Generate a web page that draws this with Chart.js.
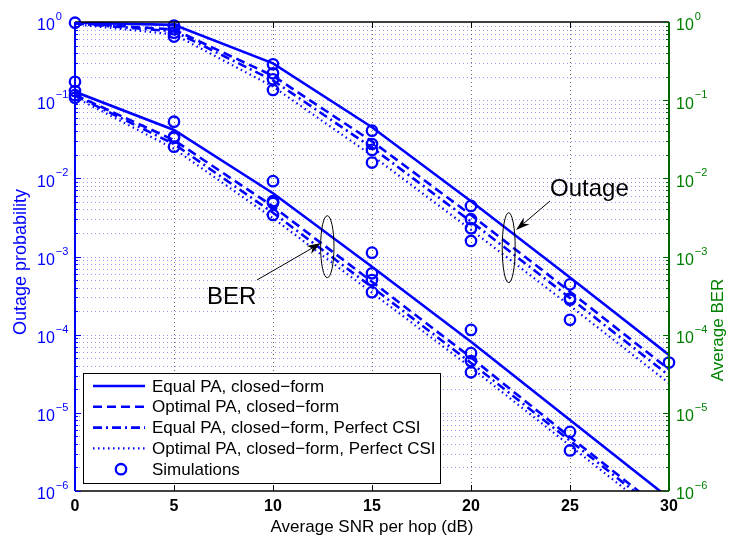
<!DOCTYPE html>
<html>
<head>
<meta charset="utf-8">
<script src="https://cdn.jsdelivr.net/npm/chart.js@4"></script>
<style>
  html, body { margin: 0; padding: 0; background: #fff; }
  #wrap { width: 731px; height: 540px; }
</style>
</head>
<body>
<div id="wrap"><canvas id="berChart" width="731" height="540"></canvas></div>
<script>
// SNR points (dB) for closed-form curves and simulations
const snr = [0, 5, 10, 15, 20, 25, 30];
const xTicks = [0, 5, 10, 15, 20, 25, 30];
const decades = [-6, -5, -4, -3, -2, -1, 0];

// Outage probability, closed-form
const outEqual      = [0.98, 0.92, 0.296, 0.045, 0.0051, 5.4e-4, 5.5e-5];
const outOptimal    = [0.97, 0.80, 0.205, 0.0297, 0.0034, 3.55e-4, 3.6e-5];
const outEqualCsi   = [0.96, 0.76, 0.179, 0.0247, 0.0028, 2.95e-4, 3.0e-5];
const outOptimalCsi = [0.935, 0.695, 0.149, 0.0196, 0.0022, 2.34e-4, 2.4e-5];

// Average BER, closed-form
const berEqual      = [0.128, 0.0416, 0.00645, 7.4e-4, 8.1e-5, 8.1e-6, 8.1e-7];
const berOptimal    = [0.117, 0.0308, 0.00437, 4.75e-4, 5.1e-5, 4.9e-6, 4.9e-7];
const berEqualCsi   = [0.1145, 0.0275, 0.00363, 4.05e-4, 4.35e-5, 4.4e-6, 4.4e-7];
const berOptimalCsi = [0.109, 0.0239, 0.00309, 3.44e-4, 3.8e-5, 3.8e-6, 3.8e-7];

// Simulation markers, one list per SNR point
const simSnr = [0, 5, 10, 15, 20, 25, 30];
const outSim = [
  [0.98],
  [0.90, 0.81, 0.73, 0.65],
  [0.288, 0.221, 0.185, 0.135],
  [0.0407, 0.0275, 0.0231, 0.0159],
  [0.00444, 0.0030, 0.0023, 0.00158],
  [4.4e-4, 2.9e-4, 2.8e-4, 1.55e-4],
  [4.4e-5]
];
const berSim = [
  [0.172, 0.131, 0.116, 0.107],
  [0.053, 0.034, 0.033, 0.0254],
  [0.0092, 0.0051, 0.00484, 0.0034],
  [0.00112, 6.1e-4, 5.0e-4, 3.5e-4],
  [1.15e-4, 5.8e-5, 4.6e-5, 3.3e-5],
  [5.7e-6, 3.3e-6],
  []
];

const legendLabels = [
  'Equal PA, closed\u2212form',
  'Optimal PA, closed\u2212form',
  'Equal PA, closed\u2212form, Perfect CSI',
  'Optimal PA, closed\u2212form, Perfect CSI',
  'Simulations'
];

const BLUE = '#0000ff';
const GREEN = '#008000';
const FONT = '"Liberation Sans", Arial, Helvetica, sans-serif';
const DASHES = [[], [9, 5], [9, 4, 2, 4], [1.5, 3.5]];
const WIDTHS = [2.6, 2.6, 2.6, 2.2];

// log ticks 1..9 x 10^k for grid and minor ticks
const logTicks = [];
decades.forEach(function (e) {
  if (e === 0) { logTicks.push(1); return; }
  for (let m = 1; m <= 9; m++) logTicks.push(m * Math.pow(10, e));
});

function curve(values, style) {
  return {
    data: snr.map((x, i) => ({ x: x, y: values[i] })),
    borderColor: BLUE,
    borderWidth: WIDTHS[style],
    borderDash: DASHES[style],
    pointRadius: 0,
    fill: false,
    tension: 0
  };
}

function simPoints() {
  const pts = [];
  [outSim, berSim].forEach(function (set) {
    set.forEach(function (vals, i) {
      vals.forEach(v => pts.push({ x: simSnr[i], y: v }));
    });
  });
  return pts;
}

const datasets = [
  curve(outEqual, 0), curve(outOptimal, 1),
  curve(outEqualCsi, 2), curve(outOptimalCsi, 3),
  curve(berEqual, 0), curve(berOptimal, 1),
  curve(berEqualCsi, 2), curve(berOptimalCsi, 3),
  {
    data: simPoints(),
    showLine: false,
    borderColor: BLUE,
    backgroundColor: 'rgba(0,0,0,0)',
    pointStyle: 'circle',
    pointRadius: 5.2,
    pointBorderWidth: 2.3,
    clip: false
  }
];

function supLabel(ctx, x, y, exp, color) {
  ctx.fillStyle = color;
  ctx.textAlign = 'left';
  ctx.textBaseline = 'middle';
  ctx.font = '16px ' + FONT;
  ctx.fillText('10', x, y + 4);
  const w = ctx.measureText('10').width;
  ctx.font = '11px ' + FONT;
  ctx.fillText(exp === 0 ? '0' : '\u2212' + Math.abs(exp), x + w + 1, y - 5);
}

function arrow(ctx, x1, y1, x2, y2) {
  const a = Math.atan2(y2 - y1, x2 - x1);
  const len = 14, hw = 4.5;
  ctx.beginPath();
  ctx.moveTo(x1, y1);
  ctx.lineTo(x2 - Math.cos(a) * len * 0.7, y2 - Math.sin(a) * len * 0.7);
  ctx.stroke();
  ctx.beginPath();
  ctx.moveTo(x2, y2);
  ctx.lineTo(x2 - Math.cos(a) * len - Math.sin(a) * hw, y2 - Math.sin(a) * len + Math.cos(a) * hw);
  ctx.lineTo(x2 - Math.cos(a) * len * 0.7, y2 - Math.sin(a) * len * 0.7);
  ctx.lineTo(x2 - Math.cos(a) * len + Math.sin(a) * hw, y2 - Math.sin(a) * len - Math.cos(a) * hw);
  ctx.closePath();
  ctx.fill();
}

const matlabLook = {
  id: 'matlabLook',
  beforeDatasetsDraw(chart) {
    const ctx = chart.ctx, a = chart.chartArea;
    const xs = chart.scales.x, ys = chart.scales.y;
    ctx.save();
    ctx.lineWidth = 1;
    ctx.setLineDash([1, 3]);
    ctx.strokeStyle = 'rgba(70,70,255,0.55)';
    logTicks.forEach(function (v) {
      const y = Math.round(ys.getPixelForValue(v)) + 0.5;
      if (y <= a.top + 1 || y >= a.bottom - 1) return;
      ctx.beginPath(); ctx.moveTo(a.left, y); ctx.lineTo(a.right, y); ctx.stroke();
    });
    ctx.strokeStyle = 'rgba(60,60,60,0.75)';
    xTicks.forEach(function (v) {
      const x = Math.round(xs.getPixelForValue(v)) + 0.5;
      if (x <= a.left + 1 || x >= a.right - 1) return;
      ctx.beginPath(); ctx.moveTo(x, a.top); ctx.lineTo(x, a.bottom); ctx.stroke();
    });
    ctx.restore();
  },
  afterDatasetsDraw(chart) {
    const ctx = chart.ctx, a = chart.chartArea;
    const xs = chart.scales.x, ys = chart.scales.y, ys2 = chart.scales.y2;
    ctx.save();
    ctx.setLineDash([]);

    // box lines
    ctx.lineWidth = 1.5;
    ctx.strokeStyle = '#000';
    ctx.beginPath(); ctx.moveTo(a.left, a.top); ctx.lineTo(a.right, a.top); ctx.stroke();
    ctx.beginPath(); ctx.moveTo(a.left, a.bottom); ctx.lineTo(a.right, a.bottom); ctx.stroke();
    xTicks.forEach(function (v) {
      const x = Math.round(xs.getPixelForValue(v)) + 0.5;
      ctx.lineWidth = 1;
      ctx.beginPath(); ctx.moveTo(x, a.bottom); ctx.lineTo(x, a.bottom - 6); ctx.stroke();
      ctx.beginPath(); ctx.moveTo(x, a.top); ctx.lineTo(x, a.top + 6); ctx.stroke();
    });
    ctx.lineWidth = 2;
    ctx.strokeStyle = BLUE;
    ctx.beginPath(); ctx.moveTo(a.left, a.top); ctx.lineTo(a.left, a.bottom); ctx.stroke();
    ctx.strokeStyle = '#006400';
    ctx.beginPath(); ctx.moveTo(a.right, a.top); ctx.lineTo(a.right, a.bottom); ctx.stroke();
    ctx.lineWidth = 1;
    logTicks.forEach(function (v) {
      const major = decades.some(e => Math.abs(v - Math.pow(10, e)) < v * 1e-6);
      const len = major ? 6 : 3;
      const y = Math.round(ys.getPixelForValue(v)) + 0.5;
      ctx.strokeStyle = BLUE;
      ctx.beginPath(); ctx.moveTo(a.left, y); ctx.lineTo(a.left + len, y); ctx.stroke();
      const y2 = Math.round(ys2.getPixelForValue(v)) + 0.5;
      ctx.strokeStyle = '#006400';
      ctx.beginPath(); ctx.moveTo(a.right, y2); ctx.lineTo(a.right - len, y2); ctx.stroke();
    });

    // tick labels
    ctx.fillStyle = '#000';
    ctx.font = 'bold 16px ' + FONT;
    ctx.textAlign = 'center';
    ctx.textBaseline = 'middle';
    xTicks.forEach(v => ctx.fillText(String(v), xs.getPixelForValue(v), a.bottom + 16));
    decades.forEach(function (e) {
      supLabel(ctx, 37, ys.getPixelForValue(Math.pow(10, e)), e, BLUE);
      supLabel(ctx, a.right + 7, ys2.getPixelForValue(Math.pow(10, e)), e, GREEN);
    });

    // axis titles
    ctx.font = '17px ' + FONT;
    ctx.fillStyle = '#000';
    ctx.textAlign = 'center';
    ctx.fillText('Average SNR per hop (dB)', (a.left + a.right) / 2, a.bottom + 36);
    ctx.save();
    ctx.font = '18px ' + FONT;
    ctx.translate(21, 262); ctx.rotate(-Math.PI / 2);
    ctx.fillStyle = BLUE; ctx.fillText('Outage probability', 0, 0);
    ctx.restore();
    ctx.save();
    ctx.translate(718, 330); ctx.rotate(-Math.PI / 2);
    ctx.fillStyle = GREEN; ctx.fillText('Average BER', 0, 0);
    ctx.restore();

    // annotations
    ctx.strokeStyle = '#000';
    ctx.fillStyle = '#000';
    ctx.lineWidth = 1;
    ctx.beginPath(); ctx.ellipse(508.7, 247.7, 6.5, 35, 0, 0, Math.PI * 2); ctx.stroke();
    ctx.beginPath(); ctx.ellipse(327.3, 246.7, 6.7, 31, 0, 0, Math.PI * 2); ctx.stroke();
    arrow(ctx, 550, 201, 516, 230);
    arrow(ctx, 257, 280, 321, 243);
    ctx.font = '24px ' + FONT;
    ctx.textAlign = 'left';
    ctx.textBaseline = 'alphabetic';
    ctx.fillText('Outage', 550, 196);
    ctx.fillText('BER', 207, 304);

    // legend
    const lx = 83, ly = 373, lw = 357, lh = 110;
    ctx.fillStyle = '#fff';
    ctx.fillRect(lx, ly, lw, lh);
    ctx.strokeStyle = '#000';
    ctx.lineWidth = 1;
    ctx.strokeRect(lx + 0.5, ly + 0.5, lw, lh);
    legendLabels.forEach(function (label, i) {
      const y = 386 + i * 20.8;
      ctx.strokeStyle = BLUE;
      if (i < 4) {
        ctx.lineWidth = WIDTHS[i];
        ctx.setLineDash(DASHES[i]);
        ctx.beginPath(); ctx.moveTo(93, y); ctx.lineTo(145, y); ctx.stroke();
        ctx.setLineDash([]);
      } else {
        ctx.lineWidth = 2.3;
        ctx.beginPath(); ctx.arc(121, y, 5.2, 0, Math.PI * 2); ctx.stroke();
      }
      ctx.fillStyle = '#000';
      ctx.font = '17px ' + FONT;
      ctx.textBaseline = 'middle';
      ctx.fillText(label, 152, y + 1);
    });
    ctx.restore();
  }
};

const hiddenAxis = {
  grid: { display: false, drawTicks: false },
  ticks: { display: false },
  border: { display: false }
};

new Chart(document.getElementById('berChart'), {
  type: 'line',
  data: { datasets: datasets },
  options: {
    responsive: false,
    animation: false,
    devicePixelRatio: 1,
    layout: { padding: { left: 75, right: 62, top: 22, bottom: 49 } },
    plugins: { legend: { display: false }, tooltip: { enabled: false } },
    scales: {
      x: Object.assign({ type: 'linear', min: 0, max: 30 }, hiddenAxis),
      y: Object.assign({ type: 'logarithmic', min: 1e-6, max: 1, position: 'left' }, hiddenAxis),
      y2: Object.assign({ type: 'logarithmic', min: 1e-6, max: 1, position: 'right' }, hiddenAxis)
    }
  },
  plugins: [matlabLook]
});
</script>
</body>
</html>
